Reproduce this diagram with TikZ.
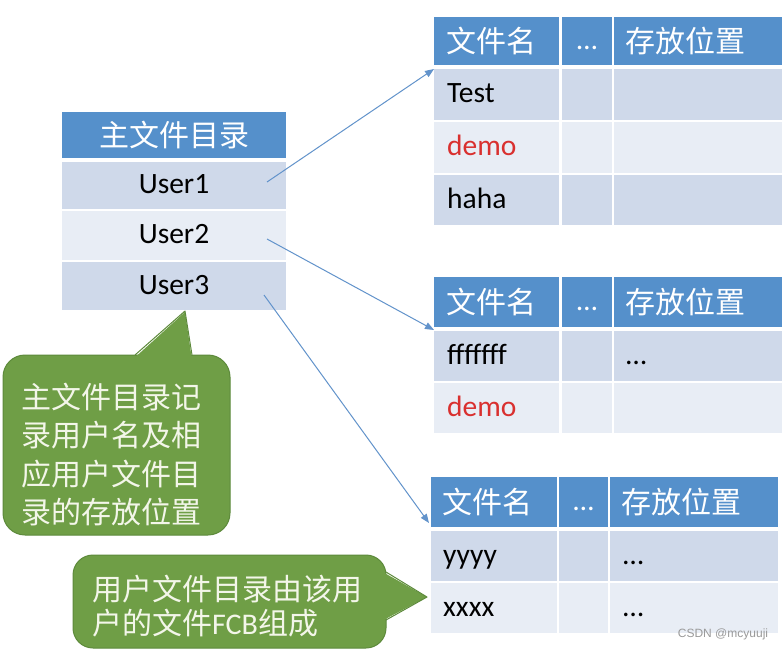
\documentclass[tikz,border=0pt]{standalone}
\usepackage{fontspec}
\setmainfont{Carlito}
\newfontfamily\cjk{Noto Sans CJK SC}
\newfontfamily\wmfont{Liberation Sans}
\usetikzlibrary{arrows.meta,fit}
\definecolor{hblue}{HTML}{5590CB}
\definecolor{rdark}{HTML}{CFD9EA}
\definecolor{rlight}{HTML}{E8EDF5}
\definecolor{cgreen}{HTML}{6F9E46}
\definecolor{cborder}{HTML}{5D8A3B}
\definecolor{ctext}{HTML}{F3F6E9}
\definecolor{arrowc}{HTML}{6293CB}
\definecolor{demored}{HTML}{D9302F}
\definecolor{wmgrey}{HTML}{9A9A9A}
\newcommand\tcell[6]{\node[cellbox,fill=#6,fit={(#2,#3)(#4,#5)}] (#1) {};}
\begin{document}
\begin{tikzpicture}[x=1pt,y=-1pt,
  cellbox/.style={rectangle,inner sep=0pt,outer sep=0pt,draw=none},
  lat/.style={font=\fontsize{29.5}{31}\selectfont,inner sep=0pt,text height=16.5pt,text depth=0pt},
  cjkhead/.style={font=\fontsize{30}{32}\selectfont\cjk,text=white,inner sep=0pt,text height=23pt,text depth=0pt},
  link/.style={draw=arrowc,line width=1pt,-{Triangle[length=9pt,width=7pt]}},
  callout/.style={cellbox,fill=cgreen,draw=cborder,line width=1pt},
  callouttext/.style={text=ctext,inner sep=0pt,align=left}]
\useasboundingbox[fill=white] (0,0) rectangle (784,651);

% ---------- master directory ----------
\tcell{mh}{62}{112}{286}{158}{hblue}
\tcell{m1}{62}{162}{286}{209}{rdark}
\tcell{m2}{62}{211}{286}{260}{rlight}
\tcell{m3}{62}{262}{286}{310}{rdark}
\node[cjkhead] (mht) at (mh) {主文件目录};
\node[lat] (m1t) at (m1) {User1};
\node[lat] (m2t) at (m2) {User2};
\node[lat] (m3t) at (m3) {User3};

% ---------- table 1 ----------
\tcell{t1h1}{434}{17}{559}{65}{hblue}
\tcell{t1h2}{562}{17}{612}{65}{hblue}
\tcell{t1h3}{614}{17}{782}{65}{hblue}
\tcell{t1a1}{434}{69}{559}{120}{rdark}
\tcell{t1b1}{562}{69}{612}{120}{rdark}
\tcell{t1c1}{614}{69}{782}{120}{rdark}
\tcell{t1a2}{434}{122}{559}{173}{rlight}
\tcell{t1b2}{562}{122}{612}{173}{rlight}
\tcell{t1c2}{614}{122}{782}{173}{rlight}
\tcell{t1a3}{434}{175}{559}{225}{rdark}
\tcell{t1b3}{562}{175}{612}{225}{rdark}
\tcell{t1c3}{614}{175}{782}{225}{rdark}
\node[cjkhead,anchor=west] (t1h1t) at ([xshift=12pt]t1h1.west) {文件名};
\node[lat,text=white] (t1h2t) at (t1h2) {…};
\node[cjkhead,anchor=west] (t1h3t) at ([xshift=11pt]t1h3.west) {存放位置};
\node[lat,anchor=west] (t1a1t) at ([xshift=13pt]t1a1.west) {Test};
\node[lat,anchor=west,text=demored] (t1a2t) at ([xshift=13pt]t1a2.west) {demo};
\node[lat,anchor=west] (t1a3t) at ([xshift=13pt]t1a3.west) {haha};

% ---------- table 2 ----------
\tcell{t2h1}{434}{277}{559}{327}{hblue}
\tcell{t2h2}{562}{277}{612}{327}{hblue}
\tcell{t2h3}{614}{277}{782}{327}{hblue}
\tcell{t2a1}{434}{331}{559}{381}{rdark}
\tcell{t2b1}{562}{331}{612}{381}{rdark}
\tcell{t2c1}{614}{331}{782}{381}{rdark}
\tcell{t2a2}{434}{383}{559}{433}{rlight}
\tcell{t2b2}{562}{383}{612}{433}{rlight}
\tcell{t2c2}{614}{383}{782}{433}{rlight}
\node[cjkhead,anchor=west] (t2h1t) at ([xshift=12pt]t2h1.west) {文件名};
\node[lat,text=white] (t2h2t) at (t2h2) {…};
\node[cjkhead,anchor=west] (t2h3t) at ([xshift=11pt]t2h3.west) {存放位置};
\node[lat,anchor=west] (t2a1t) at ([xshift=13pt]t2a1.west) {fffffff};
\node[lat,anchor=west] (t2c1t) at ([xshift=12pt]t2c1.west) {…};
\node[lat,anchor=west,text=demored] (t2a2t) at ([xshift=13pt]t2a2.west) {demo};

% ---------- table 3 ----------
\tcell{t3h1}{431}{477}{557}{527}{hblue}
\tcell{t3h2}{559}{477}{608}{527}{hblue}
\tcell{t3h3}{610}{477}{778}{527}{hblue}
\tcell{t3a1}{431}{531}{557}{581}{rdark}
\tcell{t3b1}{559}{531}{608}{581}{rdark}
\tcell{t3c1}{610}{531}{778}{581}{rdark}
\tcell{t3a2}{431}{583}{557}{633}{rlight}
\tcell{t3b2}{559}{583}{608}{633}{rlight}
\tcell{t3c2}{610}{583}{778}{633}{rlight}
\node[cjkhead,anchor=west] (t3h1t) at ([xshift=11pt]t3h1.west) {文件名};
\node[lat,text=white] (t3h2t) at (t3h2) {…};
\node[cjkhead,anchor=west] (t3h3t) at ([xshift=11pt]t3h3.west) {存放位置};
\node[lat,anchor=west] (t3a1t) at ([xshift=12pt]t3a1.west) {yyyy};
\node[lat,anchor=west] (t3c1t) at ([xshift=13pt]t3c1.west) {…};
\node[lat,anchor=west] (t3a2t) at ([xshift=12pt]t3a2.west) {xxxx};
\node[lat,anchor=west] (t3c2t) at ([xshift=13pt]t3c2.west) {…};

% ---------- arrows ----------
\coordinate (s1) at (267,182);
\coordinate (s2) at (267,239);
\coordinate (s3) at (264,295);
\draw[link] (s1) -- (t1a1.north west);
\draw[link] (s2) -- ([yshift=1pt]t2a1.north west);
\draw[link] (s3) -- ([xshift=-2pt,yshift=4pt]t3h1.south west);

% ---------- callout 1 ----------
\node[callout,rounded corners=22pt,fit={(3,355)(230,535)},inner sep=0pt] (c1) {};
\fill[cgreen] (136,356.5) -- (185,312) -- (191.5,356.5) -- cycle;
\draw[cborder,line width=1pt,line join=round] (135,355) -- (185,311) -- (192,355);
\node[callouttext,anchor=west,font=\fontsize{30}{38.3}\selectfont\cjk] (c1t) at (21,454.5)
  {主文件目录记\\录用户名及相\\应用户文件目\\录的存放位置};

% ---------- callout 2 ----------
\node[callout,rounded corners=20pt,fit={(73,555)(386,648)},inner sep=0pt] (c2) {};
\fill[cgreen] (384.5,573) -- (427,597) -- (384.5,619.5) -- cycle;
\draw[cborder,line width=1pt,line join=round] (386,572) -- (427,597) -- (386,620);
\node[callouttext,anchor=west,font=\fontsize{30}{34}\selectfont\cjk] (c2t) at (92,606)
  {用户文件目录由该用\\户的文件{\fontsize{30}{34}\selectfont\rmfamily FCB}组成};

% ---------- watermark ----------
\node[inner sep=0pt,text=wmgrey,font=\fontsize{12}{14}\selectfont\wmfont] (wm) at (723,634) {CSDN @mcyuuji};
\end{tikzpicture}
\end{document}
